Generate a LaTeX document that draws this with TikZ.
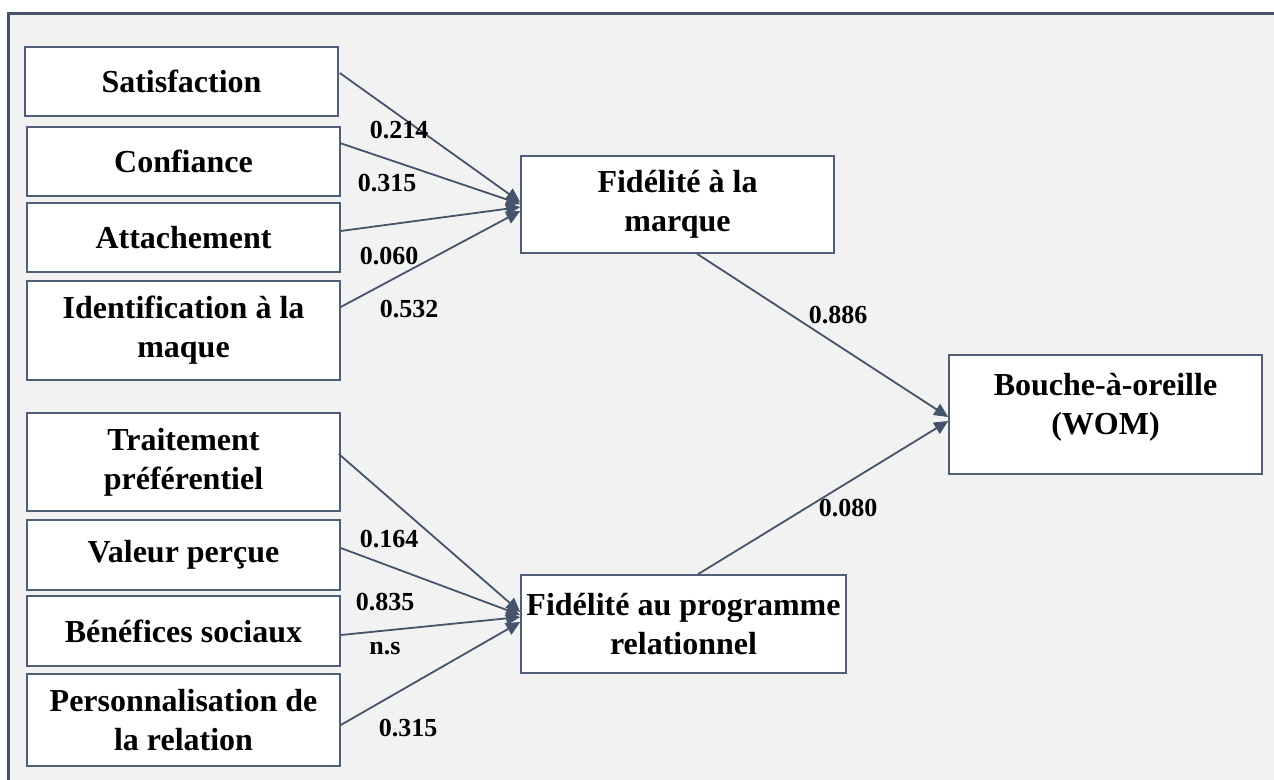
\documentclass[tikz,border=0pt]{standalone}
\usepackage{fontspec}
\setmainfont{Liberation Serif}
\usetikzlibrary{arrows.meta,calc}
\definecolor{framec}{HTML}{44546A}
\definecolor{boxc}{HTML}{4F5F78}
\definecolor{bgc}{HTML}{F2F2F2}
\begin{document}
\begin{tikzpicture}[x=0.5pt,y=-0.5pt,
  box/.style={draw=boxc, fill=white, line width=0.8pt, align=center, inner sep=2pt,
    font=\bfseries\fontsize{16}{19.5}\selectfont, minimum width=156.5pt},
  boxtext/.style={align=center, inner sep=0pt, font=\bfseries\fontsize{16}{19.5}\selectfont},
  lbl/.style={font=\bfseries\fontsize{13}{15}\selectfont, inner sep=0pt},
  arr/.style={draw=framec, line width=0.9pt, -{Triangle[length=7pt,width=6.5pt]}}]
\useasboundingbox (0,0) rectangle (1274,780);
\clip (0,0) rectangle (1274,780);
\fill[white] (0,0) rectangle (1274,780);
\draw[draw=framec, fill=bgc, line width=1.1pt] (8.5,13.5) rectangle (1300,800);

% left boxes
\node[box, minimum height=34.5pt] (sat) at (181.5,81.5) {Satisfaction};
\node[box, minimum height=34.5pt] (conf) at (183.5,161.5) {Confiance};
\node[box, minimum height=34.5pt] (att) at (183.5,237.5) {Attachement};
\node[box, minimum height=49.5pt] (ident) at (183.5,330.5) {Identification à la\\maque};
\node[box, minimum height=49pt] (trait) at (183.5,462) {Traitement\\préférentiel};
\node[box, minimum height=35pt] (val) at (183.5,555) {Valeur perçue};
\node[box, minimum height=35pt] (ben) at (183.5,631) {Bénéfices sociaux};
\node[box, minimum height=46pt] (pers) at (183.5,720) {Personnalisation de\\la relation};

% middle and right boxes
\node[box, minimum height=48.5pt] (fidm) at (677.5,204.5) {Fidélité à la\\marque};
\node[box, minimum width=162.5pt, minimum height=49pt] (fidp) at (683.5,624) {Fidélité au programme\\relationnel};
\node[box, minimum height=59.5pt] (wom) at (1105.5,414.5) {};
\node[boxtext] (womtext) at ($(wom.center)+(0,-7)$) {Bouche-à-oreille\\(WOM)};

% arrows to brand loyalty
\draw[arr] ($(sat.east)+(1,-8.5)$) -- ($(fidm.west)+(0,-2.5)$);
\draw[arr] ($(conf.east)+(-1,-18.5)$) -- ($(fidm.west)+(0,-0.5)$);
\draw[arr] ($(att.east)+(0,-6.5)$) -- ($(fidm.west)+(0,2.5)$);
\draw[arr] ($(ident.east)+(0,-23.5)$) -- ($(fidm.west)+(0,6.5)$);

% arrows to program loyalty
\draw[arr] ($(trait.east)+(-2,-8)$) -- ($(fidp.west)+(0,-12)$);
\draw[arr] ($(val.east)+(0,-7)$) -- ($(fidp.west)+(0,-9)$);
\draw[arr] ($(ben.east)+(0,4)$) -- ($(fidp.west)+(0,-7)$);
\draw[arr] ($(pers.east)+(0,5)$) -- ($(fidp.west)+(0,-2)$);

% arrows to WOM
\draw[arr] ($(fidm.south)+(19.5,0)$) -- ($(wom.west)+(0,2.5)$);
\draw[arr] ($(fidp.north)+(14.5,0)$) -- ($(wom.west)+(0,6.5)$);

% labels
\node[lbl] (l1) at (399,130) {0.214};
\node[lbl] (l2) at (387,183) {0.315};
\node[lbl] (l3) at (389,256) {0.060};
\node[lbl] (l4) at (409,309) {0.532};
\node[lbl] (l5) at (838,315) {0.886};
\node[lbl] (l6) at (848,508) {0.080};
\node[lbl] (l7) at (389,539) {0.164};
\node[lbl] (l8) at (385,602) {0.835};
\node[lbl] (l9) at (385,649) {n.s};
\node[lbl] (l10) at (408,728) {0.315};
\end{tikzpicture}
\end{document}
